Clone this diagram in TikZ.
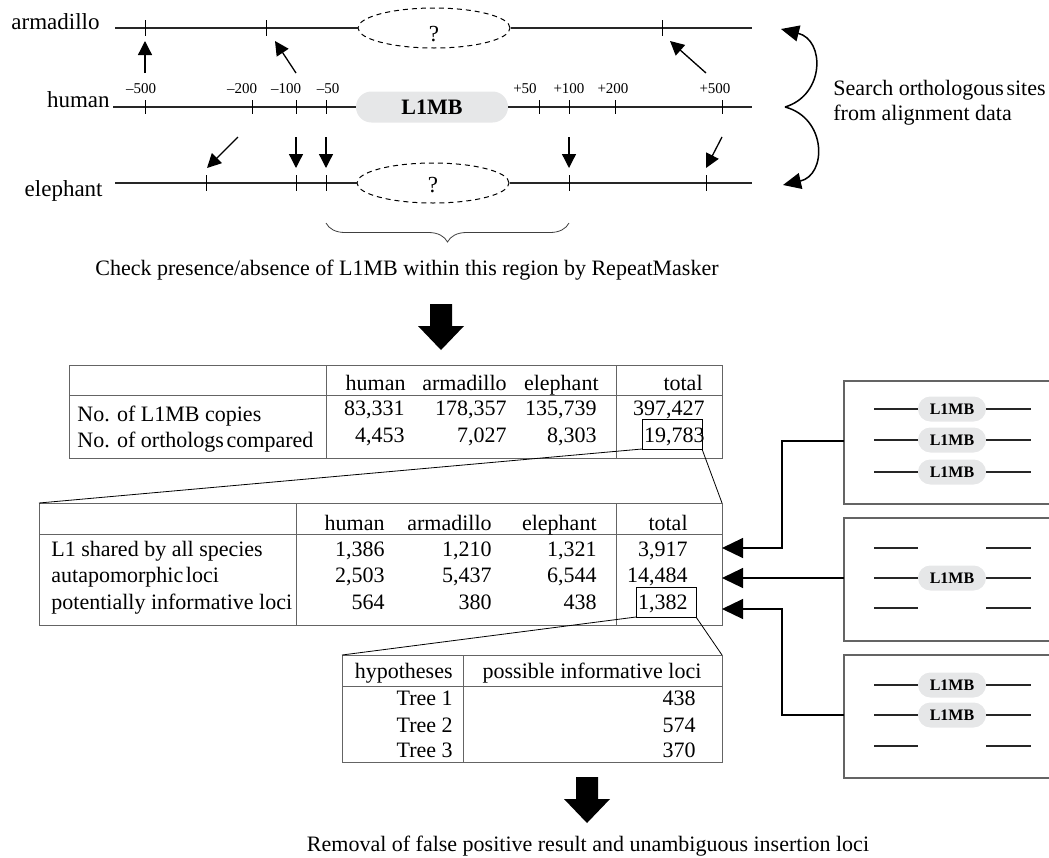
\documentclass[tikz,border=0pt]{standalone}
\usepackage{fontspec}
\setmainfont{Liberation Serif}
\usepackage{xcolor}
\usetikzlibrary{arrows.meta,shapes.geometric,decorations.pathreplacing}

\definecolor{pillgray}{RGB}{230,231,232}
\definecolor{framegray}{RGB}{100,100,100}

\newcommand{\bigdownarrow}[1]{\fill #1 ++(-11,0) -- ++(22,0) -- ++(0,22) -- ++(12,0) -- ++(-23,24) -- ++(-23,-24) -- ++(12,0) -- cycle;}

\tikzset{
  splab/.style={font=\fontsize{11.5}{13}\selectfont},
  ticklab/.style={font=\fontsize{7.5}{9}\selectfont,anchor=base},
  seq/.style={line width=0.6pt,black!85},
  tickmark/.style={line width=0.5pt},
  gapell/.style={ellipse,draw,dashed,dash pattern=on 2.5pt off 2pt,line width=0.5pt,minimum width=76pt,minimum height=20pt},
  bigpill/.style={fill=pillgray,rounded corners=7.7pt,minimum width=76pt,minimum height=15.5pt,font=\fontsize{11}{13}\selectfont\bfseries},
  smallpill/.style={fill=pillgray,rounded corners=6.2pt,minimum width=34pt,minimum height=12.5pt,font=\fontsize{8}{9}\selectfont\bfseries},
  smallarr/.style={line width=0.65pt,-{Triangle[length=7pt,width=7pt]}},
  curvarr/.style={line width=0.75pt,-{Triangle[length=9pt,width=8pt]}},
  tabarr/.style={line width=0.6pt,-{Triangle[length=10.5pt,width=10pt]}},
  tabframe/.style={draw=framegray,line width=0.5pt,outer sep=0pt,anchor=north west},
  tabline/.style={framegray,line width=0.5pt},
  hlbox/.style={draw,line width=0.5pt,minimum width=30pt,minimum height=15pt,outer sep=0pt},
  zoomline/.style={line width=0.4pt},
  boxedge/.style={framegray,line width=0.9pt},
  cellr/.style={anchor=base east},
  celll/.style={anchor=base west}
}

\begin{document}
\begin{tikzpicture}[x=0.5pt,y=-0.5pt,every node/.style={inner sep=0pt,font=\fontsize{11}{13}\selectfont}]
\useasboundingbox (0,0) rectangle (1049,857);

% three species
\node[splab,anchor=base east] (armlab) at (100,29) {armadillo};
\node[splab,anchor=base east] (humlab) at (110,107) {human};
\node[splab,anchor=base east] (elelab) at (103,196) {elephant};

\node[gapell] (armgap) at (434,28) {};
\node[splab,anchor=base] (armq) at (434,41) {?};
\draw[seq] (115,28) -- (armgap.west);
\draw[seq] (armgap.east) -- (752,28);
\draw[tickmark] (145,20) -- (145,36) (266,20) -- (266,36) (662,20) -- (662,36);

\node[bigpill] (humpill) at (432,107) {L1MB};
\draw[seq] (113,107) -- (humpill.west);
\draw[seq] (humpill.east) -- (752,107);
\draw[tickmark] (145,100) -- (145,114) (252,100) -- (252,114) (296,100) -- (296,114) (326,100) -- (326,114);
\draw[tickmark] (539,100) -- (539,114) (569,100) -- (569,114) (615,100) -- (615,114) (722,100) -- (722,114);
\node[ticklab] (lm500) at (141,93) {\textendash500};
\node[ticklab] (lm200) at (242,93) {\textendash200};
\node[ticklab] (lm100) at (286,93) {\textendash100};
\node[ticklab] (lm50) at (328,93) {\textendash50};
\node[ticklab] (lp50) at (525,93) {+50};
\node[ticklab] (lp100) at (569,93) {+100};
\node[ticklab] (lp200) at (613,93) {+200};
\node[ticklab] (lp500) at (715,93) {+500};

\node[gapell] (elegap) at (433,183) {};
\node[splab,anchor=base] (eleq) at (433,192) {?};
\draw[seq] (115,183) -- (elegap.west);
\draw[seq] (elegap.east) -- (752,183);
\draw[tickmark] (206,175) -- (206,191) (296,175) -- (296,191) (326,175) -- (326,191) (569,175) -- (569,191) (706,175) -- (706,191);

% orthologous sites
\draw[smallarr] (145,73) -- (145,41);
\draw[smallarr] (296,73) -- (275,41);
\draw[smallarr] (706,73) -- (670,41);
\draw[smallarr] (238,137) -- (207,168);
\draw[smallarr] (296,137) -- (296,168);
\draw[smallarr] (326,137) -- (326,168);
\draw[smallarr] (569,137) -- (569,168);
\draw[smallarr] (722,137) -- (706,168);

\coordinate (searchjoin) at (785,107);
\coordinate (armtip) at (781,29);
\coordinate (eletip) at (783,185);
\draw[curvarr] (searchjoin) .. controls (825,95) and (825,40) .. (armtip);
\draw[curvarr] (searchjoin) .. controls (827,118) and (827,175) .. (eletip);
\node[celll] (searchone) at (833,95) {Search orthologous\hspace{0.12em}sites};
\node[celll] (searchtwo) at (833,120) {from alignment data};

\draw[line width=0.4pt,black!75,decorate,decoration={brace,amplitude=9.5pt}] (569,223) -- (326,223);
\node[anchor=base] (checktxt) at (407,275) {Check presence/absence of L1MB within this region by RepeatMasker};

\bigdownarrow{(441,304)}

% first table
\node[tabframe,minimum width=326.5pt,minimum height=46.5pt] (tabone) at (69,365) {};
\draw[tabline] (69,395) -- (722,395);
\draw[tabline] (326,365) -- (326,458);
\draw[tabline] (616,365) -- (616,458);
\node[cellr] (t1hh) at (406,390) {human};
\node[cellr] (t1ha) at (507,390) {armadillo};
\node[cellr] (t1he) at (599,390) {elephant};
\node[cellr] (t1ht) at (703,390) {total};
\node[celll] (t1ra) at (77,421) {No. of L1MB copies};
\node[celll] (t1rb) at (77,447) {No. of orthologs\hspace{0.12em}compared};
\node[cellr] (t1a1) at (405,415) {83,331};
\node[cellr] (t1a2) at (507,415) {178,357};
\node[cellr] (t1a3) at (597,415) {135,739};
\node[cellr] (t1a4) at (705,415) {397,427};
\node[cellr] (t1b1) at (405,442) {4,453};
\node[cellr] (t1b2) at (507,442) {7,027};
\node[cellr] (t1b3) at (597,442) {8,303};
\node[cellr] (t1b4) at (705,442) {19,783};
\node[hlbox] (hlone) at (672,434) {};

% second table
\node[tabframe,minimum width=341.5pt,minimum height=61pt] (tabtwo) at (39,503) {};
\draw[tabline] (39,534) -- (722,534);
\draw[tabline] (296,503) -- (296,625);
\draw[tabline] (616,503) -- (616,625);
\node[cellr] (t2hh) at (385,530) {human};
\node[cellr] (t2ha) at (492,530) {armadillo};
\node[cellr] (t2he) at (597,530) {elephant};
\node[cellr] (t2ht) at (688,530) {total};
\node[celll] (t2ra) at (51,556) {L1 shared by all species};
\node[celll] (t2rb) at (51,582) {autapomorphic\hspace{0.12em}loci};
\node[celll] (t2rc) at (51,609) {potentially informative loci};
\node[cellr] (t2a1) at (385,556) {1,386};
\node[cellr] (t2a2) at (492,556) {1,210};
\node[cellr] (t2a3) at (597,556) {1,321};
\node[cellr] (t2a4) at (688,556) {3,917};
\node[cellr] (t2b1) at (385,582) {2,503};
\node[cellr] (t2b2) at (492,582) {5,437};
\node[cellr] (t2b3) at (597,582) {6,544};
\node[cellr] (t2b4) at (688,582) {14,484};
\node[cellr] (t2c1) at (385,609) {564};
\node[cellr] (t2c2) at (492,609) {380};
\node[cellr] (t2c3) at (597,609) {438};
\node[cellr] (t2c4) at (688,609) {1,382};
\node[hlbox] (hltwo) at (666,602) {};

\draw[zoomline] (hlone.south west) -- (tabtwo.north west);
\draw[zoomline] (hlone.south east) -- (tabtwo.north east);

% third table
\node[tabframe,minimum width=190pt,minimum height=53.5pt] (tabthree) at (342,655) {};
\draw[tabline] (342,686) -- (722,686);
\draw[tabline] (463,655) -- (463,762);
\node[cellr] (t3hh) at (453,678) {hypotheses};
\node[anchor=base] (t3hl) at (592,678) {possible informative loci};
\node[cellr] (t3r1) at (453,705) {Tree 1};
\node[cellr] (t3r2) at (453,732) {Tree 2};
\node[cellr] (t3r3) at (453,757) {Tree 3};
\node[cellr] (t3n1) at (696,705) {438};
\node[cellr] (t3n2) at (696,732) {574};
\node[cellr] (t3n3) at (696,757) {370};

\draw[zoomline] (hltwo.south west) -- (tabthree.north west);
\draw[zoomline] (hltwo.south east) -- (tabthree.north east);

\bigdownarrow{(587,777)}
\node[anchor=base] (removetxt) at (588,851) {Removal of false positive result and unambiguous insertion loci};

% insertion patterns
\draw[boxedge] (1049,381) -- (844,381) -- (844,504) -- (1049,504);
\draw[boxedge] (1049,518) -- (844,518) -- (844,641) -- (1049,641);
\draw[boxedge] (1049,655) -- (844,655) -- (844,778) -- (1049,778);

\draw[seq] (874,409) -- (918,409) (986,409) -- (1031,409);
\draw[seq] (874,440) -- (918,440) (986,440) -- (1031,440);
\draw[seq] (874,472) -- (918,472) (986,472) -- (1031,472);
\node[smallpill] (pa1) at (952,409) {L1MB};
\node[smallpill] (pa2) at (952,440) {L1MB};
\node[smallpill] (pa3) at (952,472) {L1MB};

\draw[seq] (874,548) -- (918,548) (986,548) -- (1031,548);
\draw[seq] (874,578) -- (918,578) (986,578) -- (1031,578);
\draw[seq] (874,608) -- (918,608) (986,608) -- (1031,608);
\node[smallpill] (pb2) at (952,578) {L1MB};

\draw[seq] (874,685) -- (918,685) (986,685) -- (1031,685);
\draw[seq] (874,715) -- (918,715) (986,715) -- (1031,715);
\draw[seq] (874,746) -- (918,746) (986,746) -- (1031,746);
\node[smallpill] (pc1) at (952,685) {L1MB};
\node[smallpill] (pc2) at (952,715) {L1MB};

\coordinate (boxone) at (844,441);
\coordinate (boxtwo) at (844,578);
\coordinate (boxthree) at (844,715);
\coordinate (inone) at (722,548);
\coordinate (intwo) at (722,578);
\coordinate (inthree) at (722,609);
\draw[tabarr] (boxone) -- (782,441) |- (inone);
\draw[tabarr] (boxtwo) -- (intwo);
\draw[tabarr] (boxthree) -- (782,715) |- (inthree);
\end{tikzpicture}
\end{document}
